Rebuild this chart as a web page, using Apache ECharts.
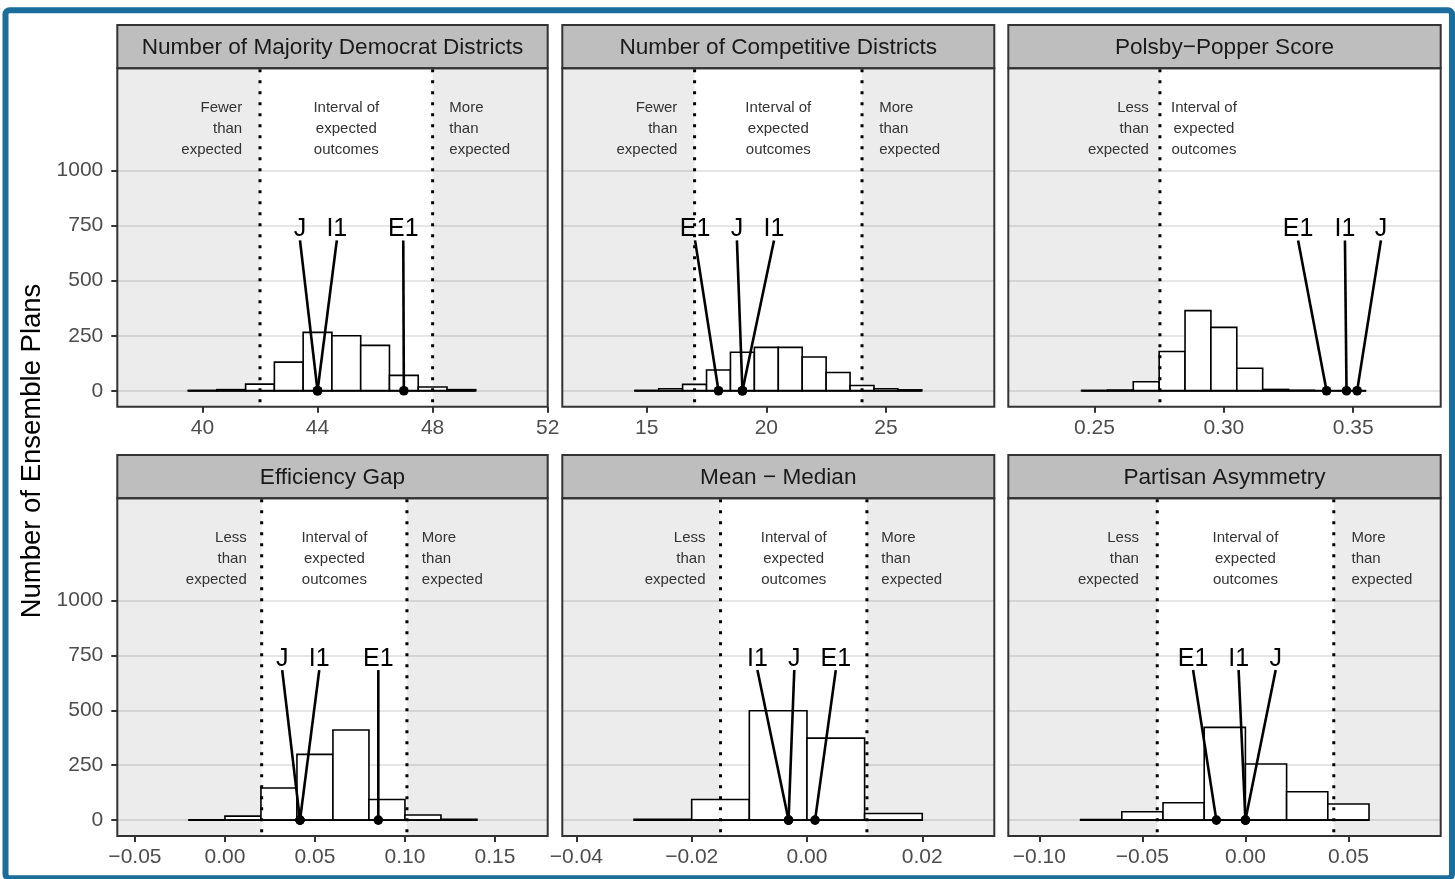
<!DOCTYPE html>
<html><head><meta charset="utf-8">
<script src="https://cdn.jsdelivr.net/npm/echarts@6/dist/echarts.min.js"></script>
<style>html,body{margin:0;padding:0;background:#fff;}#c{width:1455px;height:879px;}</style>
</head><body><div id="c"></div>
<script>
// ================= DATA =================
const panelTitles = ["Number of Majority Democrat Districts", "Number of Competitive Districts", "Polsby\u2212Popper Score",
                     "Efficiency Gap", "Mean \u2212 Median", "Partisan Asymmetry"];
const planNames = ["E1", "J", "I1"];

// histogram bins (first left edge, width) and counts
const p1BinStart = 39.5,  p1BinWidth = 1;    const p1Counts = [1, 5, 30, 130, 265, 250, 206, 70, 17, 5];
const p2BinStart = 14.5,  p2BinWidth = 1;    const p2Counts = [1, 9, 29, 94, 175, 197, 197, 153, 83, 24, 9, 4];
const p3BinStart = 0.245, p3BinWidth = 0.01; const p3Counts = [1, 3, 41, 178, 364, 288, 102, 6, 2, 0, 0];
const p4BinStart = -0.02, p4BinWidth = 0.02; const p4Counts = [1, 18, 146, 299, 410, 94, 23, 3];
const p5BinStart = -0.03, p5BinWidth = 0.01; const p5Counts = [4, 94, 498, 373, 30];
const p6BinStart = -0.08, p6BinWidth = 0.02; const p6Counts = [2, 38, 79, 422, 255, 129, 73];

// interval of expected outcomes (null = not shown)
const p1Bounds = [42, 48];
const p2Bounds = [17, 24];
const p3Bounds = [0.2753, null];
const p4Bounds = [0.0204, 0.1011];
const p5Bounds = [-0.0150, 0.0104];
const p6Bounds = [-0.0428, 0.0429];

// plan values (E1, J, I1) and where their labels sit
const p1PlanValues = [47, 44, 44];              const p1LabelX = [46.98, 43.39, 44.67];
const p2PlanValues = [18, 19, 19];              const p2LabelX = [17.02, 18.77, 20.32];
const p3PlanValues = [0.3397, 0.3515, 0.3474];  const p3LabelX = [0.3287, 0.3607, 0.3468];
const p4PlanValues = [0.0852, 0.0417, 0.0417];  const p4LabelX = [0.0852, 0.0318, 0.0524];
const p5PlanValues = [0.0014, -0.0032, -0.0032];const p5LabelX = [0.0050, -0.0022, -0.0086];
const p6PlanValues = [-0.0141, 0.0, 0.0];       const p6LabelX = [-0.0254, 0.0147, -0.0033];

// annotation text x positions: [low text, interval text, high text]
const p1TextX = [41.38, 45.0, 48.58];
const p2TextX = [16.28, 20.5, 24.72];
const p3TextX = [0.2710, 0.2923, null];
const p4TextX = [0.0121, 0.0608, 0.1094];
const p5TextX = [-0.0176, -0.0023, 0.0129];
const p6TextX = [-0.0517, 0.0, 0.0515];
const lowWords = ["Fewer", "Fewer", "Less", "Less", "Less", "Less"];

// axes
const p1XRange = [37.04, 52];       const p1Ticks = [40, 44, 48, 52];            const p1TickLabels = ["40", "44", "48", "52"];
const p2XRange = [11.47, 29.53];    const p2Ticks = [15, 20, 25];                const p2TickLabels = ["15", "20", "25"];
const p3XRange = [0.2167, 0.3838];  const p3Ticks = [0.25, 0.30, 0.35];          const p3TickLabels = ["0.25", "0.30", "0.35"];
const p4XRange = [-0.0598, 0.1793]; const p4Ticks = [-0.05, 0, 0.05, 0.10, 0.15]; const p4TickLabels = ["\u22120.05", "0.00", "0.05", "0.10", "0.15"];
const p5XRange = [-0.04245, 0.0325];const p5Ticks = [-0.04, -0.02, 0, 0.02];     const p5TickLabels = ["\u22120.04", "\u22120.02", "0.00", "0.02"];
const p6XRange = [-0.1151, 0.0948]; const p6Ticks = [-0.10, -0.05, 0, 0.05];     const p6TickLabels = ["\u22120.10", "\u22120.05", "0.00", "0.05"];
const yRange = [-72.5, 1465];
const yTicks = [0, 250, 500, 750, 1000];
const yTickLabels = ["0", "250", "500", "750", "1000"];
const yTitle = "Number of Ensemble Plans";
const labelY = 733, lineTopY = 683, annotY = 1189;

// ================= LAYOUT / STYLE =================
const FONT = "'Liberation Sans', Arial, Helvetica, sans-serif";
const colLefts = [117.3, 562.3, 1008.3];
const colWidths = [430.4, 432, 432.4];
const rowTops = [68.3, 498.3];
const rowHeights = [338.4, 337.7];
const stripTops = [25, 455];

const panels = [
  [p1BinStart, p1BinWidth, p1Counts, p1Bounds, p1PlanValues, p1LabelX, p1TextX, p1XRange, p1Ticks, p1TickLabels],
  [p2BinStart, p2BinWidth, p2Counts, p2Bounds, p2PlanValues, p2LabelX, p2TextX, p2XRange, p2Ticks, p2TickLabels],
  [p3BinStart, p3BinWidth, p3Counts, p3Bounds, p3PlanValues, p3LabelX, p3TextX, p3XRange, p3Ticks, p3TickLabels],
  [p4BinStart, p4BinWidth, p4Counts, p4Bounds, p4PlanValues, p4LabelX, p4TextX, p4XRange, p4Ticks, p4TickLabels],
  [p5BinStart, p5BinWidth, p5Counts, p5Bounds, p5PlanValues, p5LabelX, p5TextX, p5XRange, p5Ticks, p5TickLabels],
  [p6BinStart, p6BinWidth, p6Counts, p6Bounds, p6PlanValues, p6LabelX, p6TextX, p6XRange, p6Ticks, p6TickLabels]
].map((a, i) => ({binStart: a[0], binWidth: a[1], counts: a[2], bounds: a[3], planValues: a[4], labelX: a[5],
                  textX: a[6], xRange: a[7], ticks: a[8], tickLabels: a[9], title: panelTitles[i], lowWord: lowWords[i]}));

const grids = [], xAxes = [], yAxes = [], series = [], graphics = [];

panels.forEach((p, i) => {
  const row = Math.floor(i / 3), col = i % 3;
  const left = colLefts[col], top = rowTops[row], w = colWidths[col], h = rowHeights[row];
  grids.push({left: left, top: top, width: w, height: h, containLabel: false});
  const fmt = (ticks, labels) => (v) => { const k = ticks.findIndex(t => Math.abs(t - v) < 1e-9); return k >= 0 ? labels[k] : ''; };
  xAxes.push({
    type: 'value', gridIndex: i, min: p.xRange[0], max: p.xRange[1], position: 'bottom',
    axisLine: {show: false, onZero: false}, splitLine: {show: false},
    axisTick: {show: true, length: 6, customValues: p.ticks, lineStyle: {color: '#333', width: 2}},
    axisLabel: {show: true, customValues: p.ticks, formatter: fmt(p.ticks, p.tickLabels), margin: 11,
                color: '#4d4d4d', fontSize: 21, fontFamily: FONT}
  });
  yAxes.push({
    type: 'value', gridIndex: i, min: yRange[0], max: yRange[1], position: 'left',
    axisLine: {show: false, onZero: false},
    splitLine: {show: true, lineStyle: {color: '#e6e6e6', width: 2}},
    axisTick: {show: col === 0, length: 6, customValues: yTicks, lineStyle: {color: '#333', width: 2}},
    axisLabel: {show: col === 0, customValues: yTicks, formatter: fmt(yTicks, yTickLabels), margin: 14,
                color: '#4d4d4d', fontSize: 21, fontFamily: FONT}
  });

  // shading outside interval
  series.push({
    type: 'custom', xAxisIndex: i, yAxisIndex: i, z: 1, silent: true,
    data: [[0, 0]],
    renderItem: (params, api) => {
      const cs = params.coordSys, children = [];
      if (p.bounds[0] !== null) {
        const x = api.coord([p.bounds[0], 0])[0];
        children.push({type: 'rect', shape: {x: cs.x, y: cs.y, width: x - cs.x, height: cs.height}, style: {fill: 'rgba(0,0,0,0.075)'}});
      }
      if (p.bounds[1] !== null) {
        const x = api.coord([p.bounds[1], 0])[0];
        children.push({type: 'rect', shape: {x: x, y: cs.y, width: cs.x + cs.width - x, height: cs.height}, style: {fill: 'rgba(0,0,0,0.075)'}});
      }
      return {type: 'group', children};
    }
  });

  // histogram
  const histData = p.counts.map((c, k) => [p.binStart + k * p.binWidth, p.binStart + (k + 1) * p.binWidth, c]);
  series.push({
    type: 'custom', xAxisIndex: i, yAxisIndex: i, z: 2, silent: true,
    encode: {x: [0, 1], y: 2},
    data: histData,
    renderItem: (params, api) => {
      const a = api.coord([api.value(0), api.value(2)]);
      const b = api.coord([api.value(1), 0]);
      return {type: 'rect', shape: {x: a[0], y: a[1], width: b[0] - a[0], height: b[1] - a[1]},
              style: {fill: '#ffffff', stroke: '#000', lineWidth: 1.6}};
    }
  });
  // baseline under histogram
  series.push({
    type: 'custom', xAxisIndex: i, yAxisIndex: i, z: 2, silent: true,
    data: [[histData[0][0], histData[histData.length - 1][1]]],
    renderItem: (params, api) => {
      const a = api.coord([api.value(0), 0]), b = api.coord([api.value(1), 0]);
      return {type: 'line', shape: {x1: a[0], y1: a[1], x2: b[0], y2: b[1]}, style: {stroke: '#000', lineWidth: 1.8}};
    }
  });

  // dotted bounds
  series.push({
    type: 'custom', xAxisIndex: i, yAxisIndex: i, z: 3, silent: true,
    data: p.bounds.filter(v => v !== null).map(v => [v]),
    renderItem: (params, api) => {
      const cs = params.coordSys, x = api.coord([api.value(0), 0])[0];
      return {type: 'line', shape: {x1: x, y1: cs.y + 1, x2: x, y2: cs.y + cs.height}, style: {stroke: '#000', lineWidth: 3, lineDash: [3, 8]}};
    }
  });

  // annotation texts
  const annTexts = [p.lowWord + "\nthan\nexpected", "Interval of\nexpected\noutcomes", "More\nthan\nexpected"];
  const annAlign = ['right', 'center', 'left'];
  const annData = [];
  p.textX.forEach((x, k) => { if (x !== null) annData.push([x, annotY, k]); });
  series.push({
    type: 'custom', xAxisIndex: i, yAxisIndex: i, z: 3, silent: true,
    data: annData,
    renderItem: (params, api) => {
      const k = api.value(2), pt = api.coord([api.value(0), api.value(1)]);
      return {type: 'text', x: pt[0], y: pt[1],
              style: {text: annTexts[k], align: annAlign[k], verticalAlign: 'middle', fill: '#333',
                      font: '15px ' + FONT, lineHeight: 20.7}};
    }
  });

  // plan markers
  series.push({
    type: 'custom', xAxisIndex: i, yAxisIndex: i, z: 4, silent: true,
    data: p.planValues.map((v, k) => [v, p.labelX[k], k]),
    renderItem: (params, api) => {
      const v = api.value(0), lx = api.value(1), k = api.value(2);
      const p0 = api.coord([v, 0]), p1 = api.coord([lx, lineTopY]), pt = api.coord([lx, labelY]);
      return {type: 'group', children: [
        {type: 'line', shape: {x1: p0[0], y1: p0[1], x2: p1[0], y2: p1[1]}, style: {stroke: '#000', lineWidth: 2.6}},
        {type: 'circle', shape: {cx: p0[0], cy: p0[1], r: 4.8}, style: {fill: '#000'}},
        {type: 'text', x: pt[0], y: pt[1], style: {text: planNames[k], align: 'center', verticalAlign: 'middle',
                 fill: '#000', font: '25px ' + FONT}}
      ]};
    }
  });

  // strip + border
  const sTop = stripTops[row];
  graphics.push({type: 'rect', z: 100, shape: {x: left, y: sTop, width: w, height: top - sTop},
                 style: {fill: '#bebebe', stroke: '#333', lineWidth: 2}});
  graphics.push({type: 'text', z: 101, x: left + w / 2, y: sTop + (top - sTop) / 2 + 1,
                 style: {text: p.title, align: 'center', verticalAlign: 'middle', fill: '#1a1a1a', font: '22.6px ' + FONT}});
  graphics.push({type: 'rect', z: 100, shape: {x: left, y: top, width: w, height: h},
                 style: {fill: 'none', stroke: '#333', lineWidth: 2}});
});

// y-axis title
graphics.push({type: 'text', z: 100, x: 32, y: 451, rotation: Math.PI / 2,
               style: {text: yTitle, align: 'center', verticalAlign: 'middle', fill: '#000', font: '27.5px ' + FONT}});
// outer blue frame
graphics.push({type: 'rect', z: 120, shape: {x: 5.5, y: 10.3, width: 1446.5, height: 868, r: 4},
               style: {fill: 'none', stroke: '#1b6d9b', lineWidth: 6}});

const chart = echarts.init(document.getElementById('c'), null, {renderer: 'canvas'});
chart.setOption({
  animation: false,
  backgroundColor: '#ffffff',
  grid: grids, xAxis: xAxes, yAxis: yAxes, series: series,
  graphic: {elements: graphics}
});
</script></body></html>
